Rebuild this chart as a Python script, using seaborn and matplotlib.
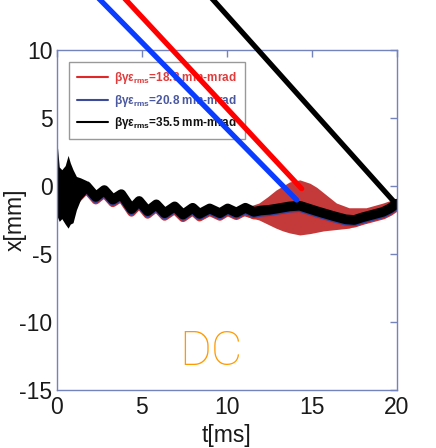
import numpy as np
import pandas as pd
import matplotlib
matplotlib.use('Agg')
import matplotlib.pyplot as plt
from matplotlib.lines import Line2D
import seaborn as sns

# ---------------- data ----------------
t_trace = [0.0, 0.3, 0.65, 0.95, 1.2, 1.75, 2.3, 2.8, 3.3, 3.8,
           4.4, 4.85, 5.35, 5.86, 6.35, 6.94, 7.43, 8.0, 8.4, 9.0,
           9.6, 10.06, 10.57, 11.1, 11.6, 12.0, 12.5, 13.0, 13.7, 14.3,
           15.3, 16.25, 17.0, 17.5, 18.0, 18.6, 19.2, 19.6, 20.0]
x_black = [-0.4, -0.3, 0.5, -0.4, -0.7, 0.0, -0.8, -0.3, -1.0, -0.6,
           -1.7, -1.1, -1.85, -1.35, -2.0, -1.5, -2.1, -1.6, -2.05, -1.65,
           -2.0, -1.65, -1.95, -1.6, -1.9, -1.8, -1.75, -1.65, -1.5, -1.45,
           -1.85, -2.2, -2.45, -2.5, -2.3, -2.1, -1.9, -1.65, -1.3]
x_blue = [-0.55, -0.45, 0.35, -0.55, -0.85, -0.15, -0.95, -0.45, -1.15, -0.75,
          -1.85, -1.25, -2.0, -1.5, -2.15, -1.65, -2.25, -1.75, -2.2, -1.8,
          -2.15, -1.8, -2.1, -1.75, -2.05, -1.95, -1.9, -1.8, -1.65, -1.6,
          -2.0, -2.35, -2.6, -2.65, -2.45, -2.25, -2.05, -1.8, -1.45]
x_red = [-0.65, -0.55, 0.25, -0.65, -0.95, -0.25, -1.05, -0.55, -1.25, -0.85,
         -1.95, -1.35, -2.1, -1.6, -2.25, -1.75, -2.35, -1.85, -2.3, -1.9,
         -2.25, -1.9, -2.2, -1.85, -2.15, -2.05, -2.0, -1.9, -1.75, -1.7,
         -2.1, -2.45, -2.7, -2.75, -2.55, -2.35, -2.15, -1.9, -1.55]

# noisy start of the black trace (envelope)
t_start = [0.0, 0.05, 0.15, 0.3, 0.5, 0.67, 0.8, 0.96, 1.16, 1.4, 1.75]
start_upper = [1.4, 2.8, 1.4, 1.2, 1.5, 2.25, 1.7, 1.2, 0.7, 0.6, 0.4]
start_lower = [-2.25, -2.3, -2.6, -2.4, -2.8, -3.1, -2.8, -2.7, -1.75, -1.0, -0.5]

# noisy envelope of the red trace
t_band = [10.5, 11.3, 11.9, 12.4, 12.9, 13.3, 13.7, 14.3, 14.9, 15.3, 15.7,
          16.45, 17.2, 18.2, 19.2, 20.0]
band_upper = [-1.6, -1.5, -1.25, -0.8, -0.3, 0.0, 0.3, 0.45, 0.2, -0.1, -0.5,
              -1.25, -1.6, -1.6, -1.25, -0.9]
band_lower = [-2.0, -2.3, -2.5, -2.8, -3.1, -3.3, -3.45, -3.6, -3.5, -3.4, -3.3,
              -3.2, -3.1, -2.7, -2.25, -1.75]

labels = ['βγε$_{\\rm rms}$=18.3 mm-mrad',
          'βγε$_{\\rm rms}$=20.8 mm-mrad',
          'βγε$_{\\rm rms}$=35.5 mm-mrad']

# annotation pointers: red, blue, black
ptr_tail_t = [3.84, 2.31, 8.98]
ptr_tail_x = [14.0, 14.0, 14.0]
ptr_tip_t = [14.41, 14.12, 19.8]
ptr_tip_x = [-0.2, -1.03, -1.1]

x_ticks = [0, 5, 10, 15, 20]
y_ticks = [-15, -10, -5, 0, 5, 10]

# ---------------- style ----------------
sns.set_style('white')
plt.rcParams['font.family'] = ['Liberation Sans', 'DejaVu Sans']
plt.rcParams['axes.unicode_minus'] = False
plt.rcParams['mathtext.fontset'] = 'custom'
plt.rcParams['mathtext.rm'] = 'Liberation Sans:bold'
plt.rcParams['mathtext.it'] = 'Liberation Sans:italic'
plt.rcParams['mathtext.bf'] = 'Liberation Sans:bold'

spine_c = '#7483bb'
red = '#ff0000'
blue = '#0a3cff'
band_c = '#c43a3a'
trace_blue = '#34429c'
trace_red = '#d03030'

fig = plt.figure(figsize=(4.36, 4.48), dpi=100)
ax = fig.add_axes([56.7 / 436, 58 / 448, 340 / 436, 340 / 448])

# red noise envelope
ax.fill_between(t_band, band_lower, band_upper, color=band_c, lw=0, zorder=2)

df = pd.DataFrame({'t': t_trace, 'red': x_red, 'blue': x_blue, 'black': x_black})
sns.lineplot(data=df, x='t', y='red', ax=ax, color=trace_red, lw=6,
             estimator=None, sort=False, zorder=2.1)
sns.lineplot(data=df, x='t', y='blue', ax=ax, color=trace_blue, lw=6,
             estimator=None, sort=False, zorder=2.2)
ax.fill_between(t_start, start_lower, start_upper, color='black', lw=0, zorder=2.3)
sns.lineplot(data=df, x='t', y='black', ax=ax, color='black', lw=7,
             estimator=None, sort=False, zorder=2.4)

ax.set_xlim(0, 20)
ax.set_ylim(-15, 10)
ax.set_xticks(x_ticks)
ax.set_yticks(y_ticks)
ax.set_xlabel('t[ms]', fontsize=16.5, color='#1a1a1a', labelpad=4)
ax.set_ylabel('x[mm]', fontsize=16.5, color='#1a1a1a')
ax.yaxis.set_label_coords(-0.088, 0.5)
for s in ax.spines.values():
    s.set_color(spine_c)
    s.set_linewidth(1.0)
    s.set_visible(True)
ax.tick_params(direction='in', top=True, right=True, length=5, width=1,
               color=spine_c, labelsize=16.5, labelcolor='#1a1a1a')
ax.tick_params(axis='x', pad=4)
ax.tick_params(axis='y', pad=3)

# legend
handles = [Line2D([], [], color='#e02828', lw=1.5),
           Line2D([], [], color='#3c4a9a', lw=1.5),
           Line2D([], [], color='black', lw=1.5)]
leg = ax.legend(handles, labels, loc='upper left', bbox_to_anchor=(0.036, 0.965),
                borderaxespad=0, prop={'size': 8.5, 'weight': 'bold'}, frameon=True,
                fancybox=False, edgecolor='#808080', handlelength=2.6, handletextpad=0.5,
                labelspacing=0.55, borderpad=0.7)
leg.get_frame().set_linewidth(1.0)
leg.set_zorder(5)
for txt, c in zip(leg.get_texts(), ['#e03c3c', '#4a58a0', '#111111']):
    txt.set_color(c)

# pointers from outside the axes to the traces
for tt, tx, pt, px, c in zip(ptr_tail_t, ptr_tail_x, ptr_tip_t, ptr_tip_x, [red, blue, 'black']):
    ann = ax.annotate('', xy=(pt, px), xytext=(tt, tx), xycoords='data', textcoords='data',
                      arrowprops=dict(arrowstyle='-', color=c, lw=3.8, shrinkA=0, shrinkB=0),
                      annotation_clip=False)
    ann.set_zorder(6)

ax.text(9.1, -12.2, 'DC', color='#ff9900', fontsize=35, ha='center', va='center',
        family=['Roboto', 'DejaVu Sans'], fontweight='light')

fig.savefig('out.png', dpi=100)
